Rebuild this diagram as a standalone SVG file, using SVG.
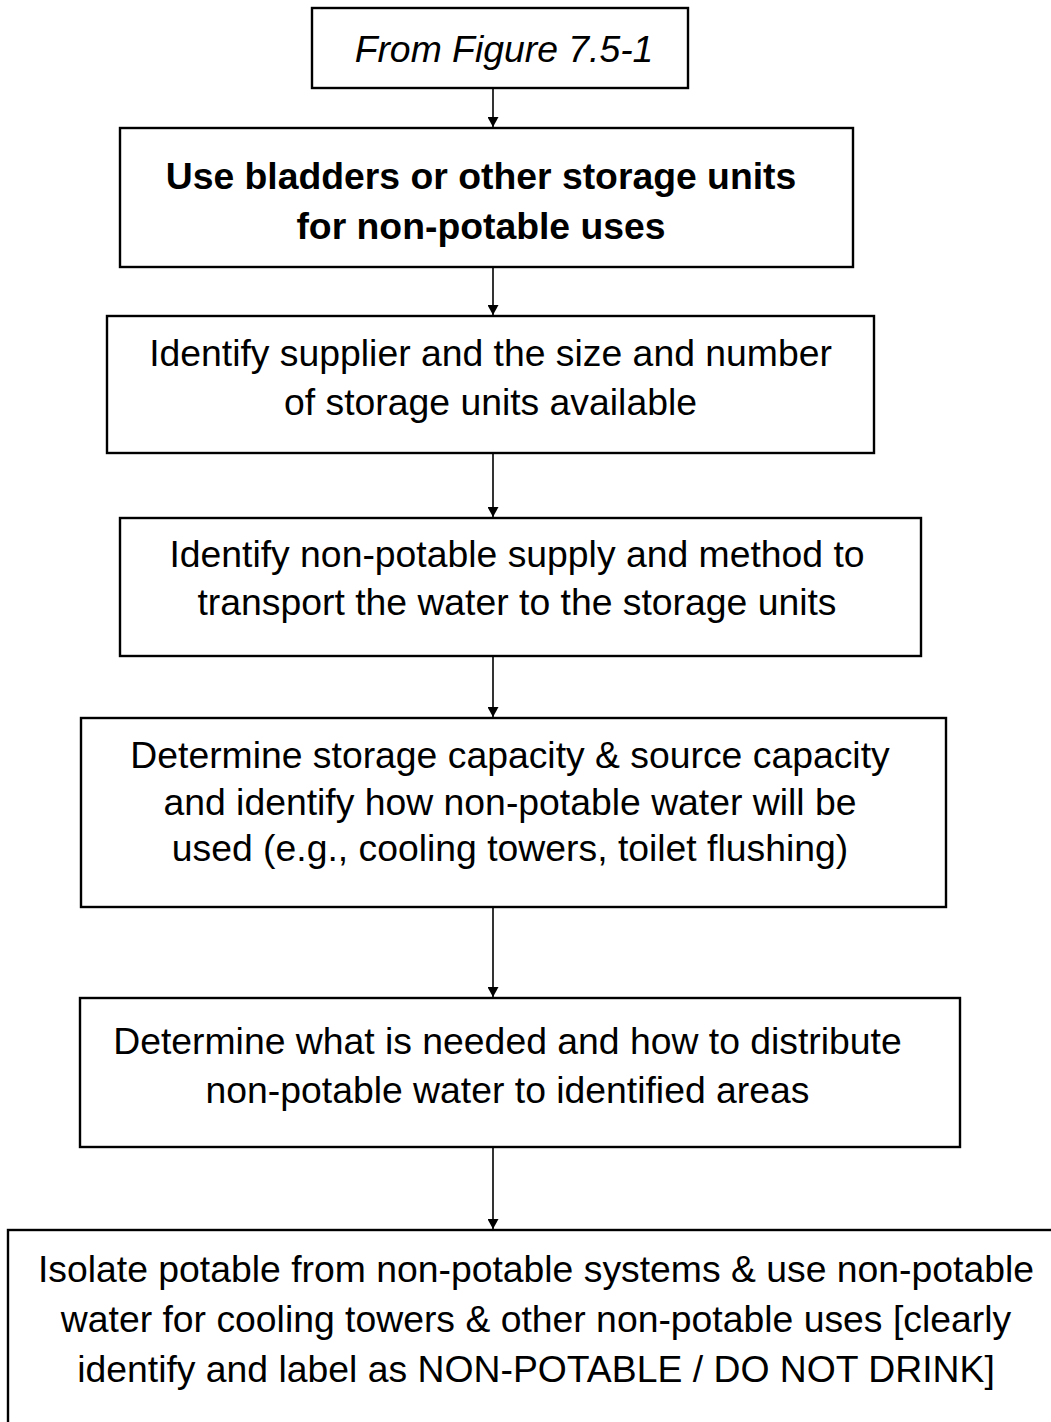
<svg xmlns="http://www.w3.org/2000/svg" width="1051" height="1422" viewBox="0 0 1051 1422">
<style>
.box{fill:#fff;stroke:#000;stroke-width:2.4}
.t{font-family:"Liberation Sans",Arial,sans-serif;font-size:37.33px;fill:#000;text-anchor:middle}
.b{font-weight:bold}
.i{font-style:italic}
.c{stroke:#000;stroke-width:1.6;fill:none;marker-end:url(#ah)}
</style>
<defs>
<marker id="ah" markerUnits="userSpaceOnUse" markerWidth="10" markerHeight="11" refX="10" refY="5.5" orient="auto">
<path d="M0,0 L10,5.5 L0,11 Z" fill="#000"/>
</marker>
</defs>
<rect width="1051" height="1422" fill="#fff"/>
<g id="connectors">
<line class="c" x1="493" y1="88" x2="493" y2="127"/>
<line class="c" x1="493" y1="267" x2="493" y2="315"/>
<line class="c" x1="493" y1="453" x2="493" y2="517"/>
<line class="c" x1="493" y1="656" x2="493" y2="717"/>
<line class="c" x1="493" y1="907" x2="493" y2="997"/>
<line class="c" x1="493" y1="1147" x2="493" y2="1229"/>
</g>
<g id="n1">
<rect class="box" x="312" y="8" width="376" height="80"/>
<text class="t i" x="504" y="62">From Figure 7.5-1</text>
</g>
<g id="n2">
<rect class="box" x="120" y="128" width="733" height="139"/>
<text class="t b" x="481" y="189">Use bladders or other storage units</text>
<text class="t b" x="481" y="239">for non-potable uses</text>
</g>
<g id="n3">
<rect class="box" x="107" y="316" width="767" height="137"/>
<text class="t" x="490.5" y="366">Identify supplier and the size and number</text>
<text class="t" x="490.5" y="415">of storage units available</text>
</g>
<g id="n4">
<rect class="box" x="120" y="518" width="801" height="138"/>
<text class="t" x="517" y="567">Identify non-potable supply and method to</text>
<text class="t" x="517" y="615">transport the water to the storage units</text>
</g>
<g id="n5">
<rect class="box" x="81" y="718" width="865" height="189"/>
<text class="t" x="510" y="768">Determine storage capacity &amp; source capacity</text>
<text class="t" x="510" y="815">and identify how non-potable water will be</text>
<text class="t" x="510" y="861">used (e.g., cooling towers, toilet flushing)</text>
</g>
<g id="n6">
<rect class="box" x="80" y="998" width="880" height="149"/>
<text class="t" x="507.5" y="1054">Determine what is needed and how to distribute</text>
<text class="t" x="507.5" y="1103">non-potable water to identified areas</text>
</g>
<g id="n7">
<rect class="box" x="8" y="1230" width="1060" height="220"/>
<text class="t" x="536" y="1282">Isolate potable from non-potable systems &amp; use non-potable</text>
<text class="t" x="536" y="1332">water for cooling towers &amp; other non-potable uses [clearly</text>
<text class="t" x="536" y="1382">identify and label as NON-POTABLE / DO NOT DRINK]</text>
</g>
</svg>
